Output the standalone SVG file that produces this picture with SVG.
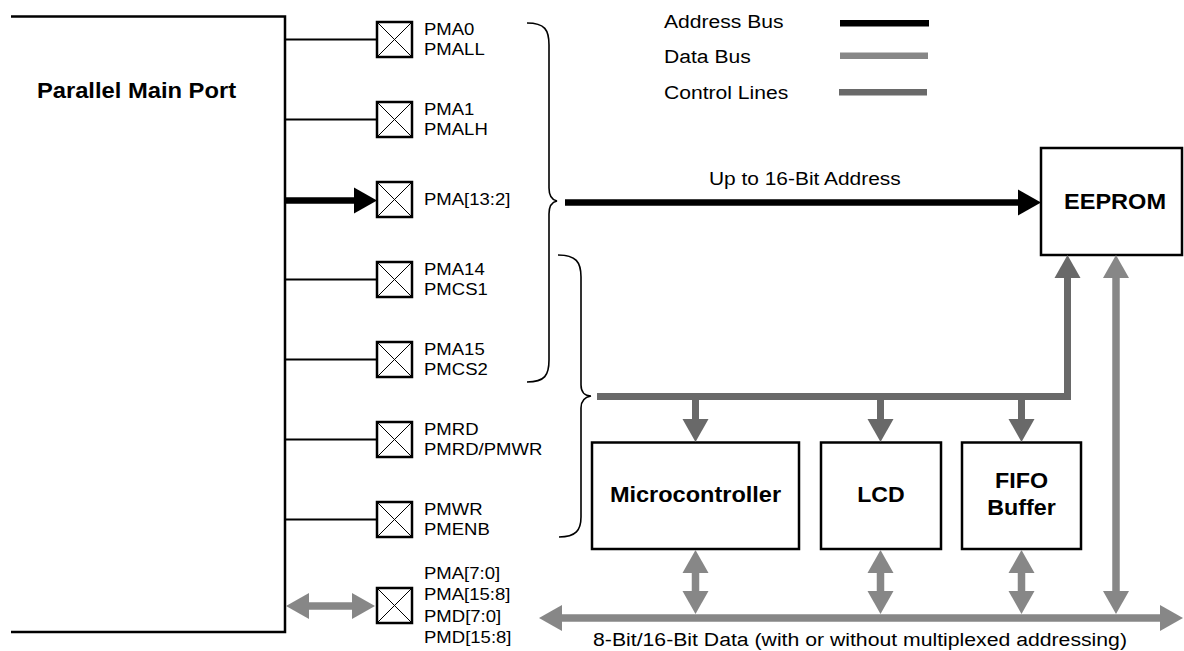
<svg xmlns="http://www.w3.org/2000/svg" width="1184" height="651" viewBox="0 0 1184 651">
<style>
.t{font-family:"Liberation Sans",Arial,sans-serif;fill:#000}
.pl{font-size:17px}
.rg{font-size:19px}
.bd{font-size:22px;font-weight:bold}
.box{fill:#fff;stroke:#000;stroke-width:2.5}
.sq{fill:#fff;stroke:#000;stroke-width:2.5}
.x{stroke:#000;stroke-width:1;fill:none}
.wire{stroke:#000;stroke-width:2;fill:none}
.brace{stroke:#000;stroke-width:1.6;fill:none}
.addr{stroke:#000;stroke-width:6.5;fill:none}
.data{stroke:#878787;stroke-width:7.5;fill:none}
.ctrl{stroke:#696969;stroke-width:7;fill:none;stroke-linejoin:miter}
</style>
<defs>
<marker id="hA" markerUnits="userSpaceOnUse" markerWidth="24" markerHeight="26" refX="0" refY="13" orient="auto-start-reverse" overflow="visible"><path d="M0,0 L23,13 L0,26 Z" fill="#000"/></marker>
<marker id="hD" markerUnits="userSpaceOnUse" markerWidth="24" markerHeight="26" refX="0" refY="13" orient="auto-start-reverse" overflow="visible"><path d="M0,0 L23,13 L0,26 Z" fill="#878787"/></marker>
<marker id="hC" markerUnits="userSpaceOnUse" markerWidth="24" markerHeight="26" refX="0" refY="13" orient="auto-start-reverse" overflow="visible"><path d="M0,0 L23,13 L0,26 Z" fill="#696969"/></marker>
</defs>
<rect width="1184" height="651" fill="#fff"/>

<g id="port">
<path d="M11,16.5 H285 V632 H11" class="box" style="fill:none"/>
<text class="t bd" text-anchor="middle" transform="matrix(1.08 0 0 1 136.5 98)">Parallel Main Port</text>
</g>

<g id="legend">
<text class="t rg" transform="matrix(1.11 0 0 1 664 28)">Address Bus</text>
<text class="t rg" transform="matrix(1.11 0 0 1 664 63)">Data Bus</text>
<text class="t rg" transform="matrix(1.11 0 0 1 664 99)">Control Lines</text>
<line x1="840" y1="23.3" x2="929" y2="23.3" stroke="#000" stroke-width="6.5"/>
<line x1="840" y1="55.7" x2="928" y2="55.7" stroke="#878787" stroke-width="6.5"/>
<line x1="839" y1="92.3" x2="927" y2="92.3" stroke="#696969" stroke-width="6.5"/>
</g>

<g id="pin0">
<rect class="sq" x="377" y="22" width="35" height="35"/>
<path class="x" d="M377,22 L412,57 M412,22 L377,57"/>
<text class="t pl" transform="matrix(1.09 0 0 1 424 0)"><tspan x="0" y="35">PMA0</tspan><tspan x="0" y="55">PMALL</tspan></text>
</g>
<g id="pin1">
<rect class="sq" x="377" y="102" width="35" height="35"/>
<path class="x" d="M377,102 L412,137 M412,102 L377,137"/>
<text class="t pl" transform="matrix(1.09 0 0 1 424 0)"><tspan x="0" y="115">PMA1</tspan><tspan x="0" y="135">PMALH</tspan></text>
</g>
<g id="pin2">
<rect class="sq" x="377" y="182" width="35" height="35"/>
<path class="x" d="M377,182 L412,217 M412,182 L377,217"/>
<text class="t pl" transform="matrix(1.09 0 0 1 424 0)"><tspan x="0" y="205">PMA[13:2]</tspan></text>
</g>
<g id="pin3">
<rect class="sq" x="377" y="262" width="35" height="35"/>
<path class="x" d="M377,262 L412,297 M412,262 L377,297"/>
<text class="t pl" transform="matrix(1.09 0 0 1 424 0)"><tspan x="0" y="275">PMA14</tspan><tspan x="0" y="295">PMCS1</tspan></text>
</g>
<g id="pin4">
<rect class="sq" x="377" y="342" width="35" height="35"/>
<path class="x" d="M377,342 L412,377 M412,342 L377,377"/>
<text class="t pl" transform="matrix(1.09 0 0 1 424 0)"><tspan x="0" y="355">PMA15</tspan><tspan x="0" y="375">PMCS2</tspan></text>
</g>
<g id="pin5">
<rect class="sq" x="377" y="422" width="35" height="35"/>
<path class="x" d="M377,422 L412,457 M412,422 L377,457"/>
<text class="t pl" transform="matrix(1.09 0 0 1 424 0)"><tspan x="0" y="435">PMRD</tspan><tspan x="0" y="455">PMRD/PMWR</tspan></text>
</g>
<g id="pin6">
<rect class="sq" x="377" y="502" width="35" height="35"/>
<path class="x" d="M377,502 L412,537 M412,502 L377,537"/>
<text class="t pl" transform="matrix(1.09 0 0 1 424 0)"><tspan x="0" y="515">PMWR</tspan><tspan x="0" y="535">PMENB</tspan></text>
</g>
<g id="pin7">
<rect class="sq" x="377" y="588" width="35" height="35"/>
<path class="x" d="M377,588 L412,623 M412,588 L377,623"/>
<text class="t pl" transform="matrix(1.09 0 0 1 424 0)"><tspan x="0" y="579">PMA[7:0]</tspan><tspan x="0" y="600">PMA[15:8]</tspan><tspan x="0" y="622">PMD[7:0]</tspan><tspan x="0" y="643">PMD[15:8]</tspan></text>
</g>

<g id="braces">
<path class="brace" d="M527,23 C545,23 549,30 549,45 V188 C549,196 552,200 557,201 C552,202 549,206 549,214 V360 C549,375 545,382 527,382"/>
<path class="brace" d="M558,255 C576,255 581,262 581,277 V385 C581,392 585,396 591,396 C585,397 581,400 581,408 V517 C581,530 576,537 559,537"/>
</g>

<g id="eeprom">
<rect class="box" x="1041" y="148" width="141" height="107"/>
<text class="t bd" text-anchor="middle" transform="matrix(1.07 0 0 1 1115 209)">EEPROM</text>
</g>
<g id="mcu">
<rect class="box" x="592" y="442.5" width="207" height="106.5"/>
<text class="t bd" text-anchor="middle" transform="matrix(1.07 0 0 1 695.5 502)">Microcontroller</text>
</g>
<g id="lcd">
<rect class="box" x="821" y="442.5" width="120" height="106.5"/>
<text class="t bd" text-anchor="middle" transform="matrix(1.05 0 0 1 881 502)">LCD</text>
</g>
<g id="fifo">
<rect class="box" x="962" y="442.5" width="119" height="106.5"/>
<text class="t bd" text-anchor="middle" transform="matrix(1.06 0 0 1 1021.5 0)"><tspan x="0" y="488">FIFO</tspan><tspan x="0" y="515">Buffer</tspan></text>
</g>

<g id="connectors">
<line class="wire" x1="286" y1="39.5" x2="377" y2="39.5"/>
<line class="wire" x1="286" y1="119.5" x2="377" y2="119.5"/>
<line class="wire" x1="286" y1="279.5" x2="377" y2="279.5"/>
<line class="wire" x1="286" y1="359.5" x2="377" y2="359.5"/>
<line class="wire" x1="286" y1="439.5" x2="377" y2="439.5"/>
<line class="wire" x1="286" y1="519.5" x2="377" y2="519.5"/>
<path class="addr" d="M286,200.5 H354" marker-end="url(#hA)"/>
<path class="addr" d="M565,202.5 H1018" marker-end="url(#hA)"/>
<text class="t rg" transform="matrix(1.1 0 0 1 709 185)">Up to 16-Bit Address</text>
<path class="data" d="M309,606 H352" marker-start="url(#hD)" marker-end="url(#hD)"/>
<path class="data" d="M562,618 H1160" marker-start="url(#hD)" marker-end="url(#hD)"/>
<text class="t rg" text-anchor="middle" transform="matrix(1.117 0 0 1 860 646)">8-Bit/16-Bit Data (with or without multiplexed addressing)</text>
<path class="data" d="M1116,278 V591" marker-start="url(#hD)" marker-end="url(#hD)"/>
<path class="data" d="M695.5,573 V591" marker-start="url(#hD)" marker-end="url(#hD)"/>
<path class="data" d="M880.5,573 V591" marker-start="url(#hD)" marker-end="url(#hD)"/>
<path class="data" d="M1021.5,573 V591" marker-start="url(#hD)" marker-end="url(#hD)"/>
<path class="ctrl" d="M597,396.5 H1067.5 V278" marker-end="url(#hC)"/>
<path class="ctrl" d="M695.5,396 V419" marker-end="url(#hC)"/>
<path class="ctrl" d="M880.5,396 V419" marker-end="url(#hC)"/>
<path class="ctrl" d="M1021.5,396 V419" marker-end="url(#hC)"/>
</g>
</svg>
